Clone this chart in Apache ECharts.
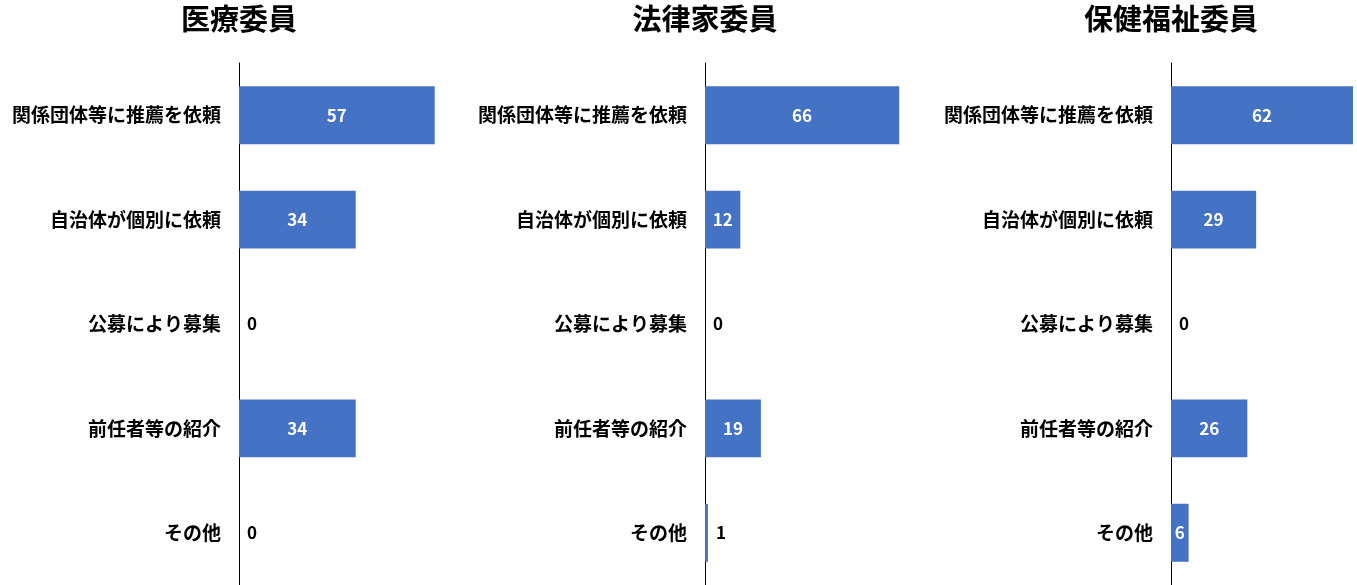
<!DOCTYPE html>
<html lang="ja">
<head>
<meta charset="utf-8">
<title>委員の選任方法</title>
<script src="https://cdn.jsdelivr.net/npm/echarts@6/dist/echarts.min.js"></script>
<style>
  html, body { margin: 0; padding: 0; background: #fff; }
  #chart { width: 1357px; height: 585px; }
</style>
</head>
<body>
<div id="chart"></div>
<script>
// 選任方法の区分
const categories = ['関係団体等に推薦を依頼', '自治体が個別に依頼', '公募により募集', '前任者等の紹介', 'その他'];

// 委員の種類ごとの件数
const panelTitles = ['医療委員', '法律家委員', '保健福祉委員'];
const medicalValues = [57, 34, 0, 34, 0];
const lawyerValues = [66, 12, 0, 19, 1];
const welfareValues = [62, 29, 0, 26, 6];

const panelValues = [medicalValues, lawyerValues, welfareValues];

// 各パネルの配置と目盛りの上限
const panelLayout = [
  { left: 239, width: 206, max: 60 },
  { left: 705, width: 206, max: 70 },
  { left: 1171, width: 182, max: 62 }
];

const FONT = '"Noto Sans CJK JP", "Noto Sans", sans-serif';
const BAR_COLOR = '#4472C4';

const chart = echarts.init(document.getElementById('chart'));

// 棒が短すぎて数値が入らない場合は棒の右側に黒文字で表示
function barItem(v) {
  if (v < 3) {
    return {
      value: v,
      label: { position: 'right', distance: 8, color: '#000' }
    };
  }
  return v;
}

const option = {
  animation: false,
  backgroundColor: '#fff',
  title: panelTitles.map((t, i) => ({
    text: t,
    left: panelLayout[i].left,
    top: 4,
    padding: 0,
    textAlign: 'center',
    textStyle: { fontFamily: FONT, fontSize: 29, fontWeight: 'bold', color: '#000' }
  })),
  grid: panelLayout.map(p => ({
    left: p.left,
    width: p.width,
    top: 63,
    height: 522,
    containLabel: false
  })),
  xAxis: panelLayout.map((p, i) => ({
    type: 'value',
    gridIndex: i,
    min: 0,
    max: p.max,
    show: false
  })),
  yAxis: panelLayout.map((p, i) => ({
    type: 'category',
    gridIndex: i,
    data: categories,
    inverse: true,
    axisLine: { show: true, lineStyle: { color: '#000', width: 1 } },
    axisTick: { show: false },
    splitLine: { show: false },
    axisLabel: {
      margin: 18,
      fontFamily: FONT,
      fontSize: 19,
      fontWeight: 'bold',
      color: '#000'
    }
  })),
  series: panelValues.map((vals, i) => ({
    type: 'bar',
    xAxisIndex: i,
    yAxisIndex: i,
    data: vals.map(barItem),
    barCategoryGap: '44.5%',
    itemStyle: { color: BAR_COLOR },
    label: {
      show: true,
      position: 'inside',
      color: '#fff',
      fontFamily: FONT,
      fontSize: 17,
      fontWeight: 'bold'
    },
    emphasis: { disabled: true }
  }))
};

chart.setOption(option);
</script>
</body>
</html>
